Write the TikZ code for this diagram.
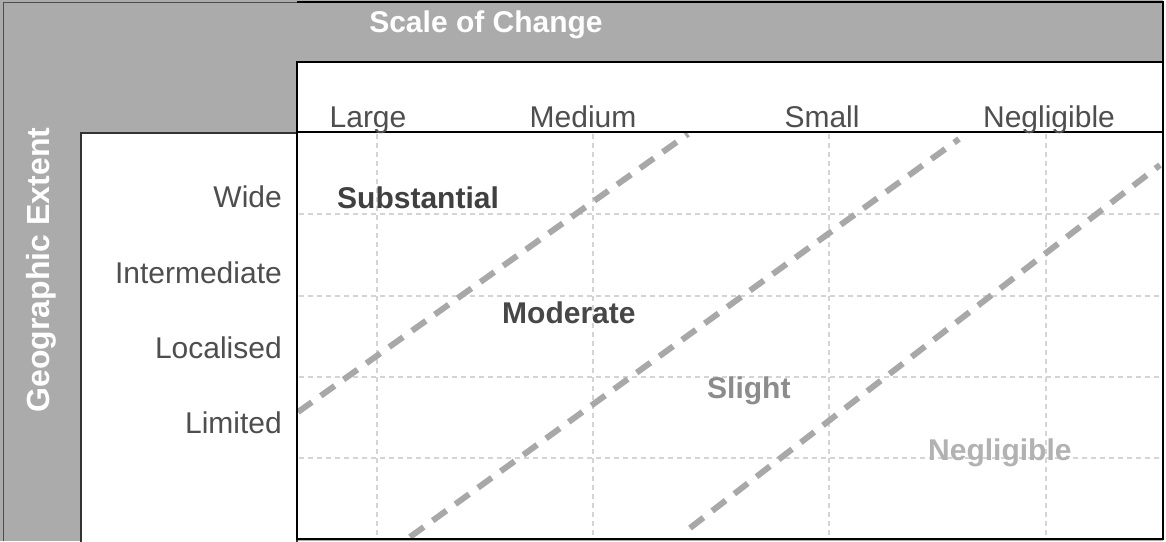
\documentclass[tikz,border=0pt]{standalone}
\usepackage{fontspec}
\setmainfont{Liberation Sans}
\definecolor{bandgray}{RGB}{171,171,171}
\definecolor{labelgray}{RGB}{78,78,78}
\definecolor{gridgray}{RGB}{212,212,212}
\definecolor{bandline}{RGB}{168,168,168}
\tikzset{lbl/.style={font=\fontsize{30}{32}\selectfont, text=labelgray, inner sep=0pt}}

\begin{document}
\begin{tikzpicture}[x=1pt,y=-1pt,
    cat/.style={lbl,font=\fontsize{30}{32}\selectfont\bfseries},
    gridline/.style={gridgray,line width=1.2pt,dash pattern=on 5pt off 4pt},
    bandedge/.style={bandline,line width=6pt,dash pattern=on 17pt off 11pt}]
    \useasboundingbox (0,0) rectangle (1166,541);
    % grey frame
    \fill[bandgray] (0,0) rectangle (1163,541);
    \draw[black!70,line width=1pt] (3,541) -- (3,2) -- (297,2);
    \draw[black,line width=2.5pt] (297,2) -- (1163,2) -- (1163,62);
    % white panels
    \filldraw[fill=white,draw=black,line width=2.5pt] (297,62) rectangle (1163,132);
    \filldraw[fill=white,draw=black!80,line width=1.2pt] (81,133) rectangle (297,545);
    \fill[white] (297,132) rectangle (1163,539);
    % grid
    \foreach \gx in {377,593,829,1046}
        \draw[gridline] (\gx,134) -- (\gx,538);
    \foreach \gy in {214,296,377,458}
        \draw[gridline] (299,\gy) -- (1161,\gy);
    % band edges
    \begin{scope}
        \clip (297,132) rectangle (1163,539);
        \coordinate (e1a) at (298,412);  \coordinate (e1b) at (688,134);
        \coordinate (e2a) at (410,537);  \coordinate (e2b) at (959,139);
        \coordinate (e3a) at (690,528);  \coordinate (e3b) at (1160,165);
        \foreach \e in {1,2,3}
            \draw[bandedge] (e\e a) -- (e\e b);
    \end{scope}
    \draw[black,line width=2.5pt] (297,132) rectangle (1163,539);
    % titles
    \node[lbl,text=white,font=\fontsize{30}{32}\selectfont\bfseries,anchor=base] (scale) at (486,32) {Scale of Change};
    \node[lbl,text=white,font=\fontsize{32}{34}\selectfont\bfseries,rotate=90,anchor=base] (extent) at (49,270) {Geographic Extent};
    % column labels
    \node[lbl,anchor=base] (large) at (368,127) {Large};
    \node[lbl,anchor=base] (medium) at (583,127) {Medium};
    \node[lbl,anchor=base] (small) at (822,127) {Small};
    \node[lbl,anchor=base] (neglcol) at (1049,127) {Negligible};
    % row labels
    \node[lbl,anchor=base east] (wide) at (282,207) {Wide};
    \node[lbl,anchor=base east] (inter) at (282,283) {Intermediate};
    \node[lbl,anchor=base east] (local) at (282,358) {Localised};
    \node[lbl,anchor=base east] (limited) at (282,433) {Limited};
    % magnitudes
    \node[cat,text=black!75,anchor=base west] (subst) at (337,208) {Substantial};
    \node[cat,text=black!72,anchor=base west] (moder) at (502,323) {Moderate};
    \node[cat,text=black!45,anchor=base west] (slight) at (707,398) {Slight};
    \node[cat,text=black!30,anchor=base west] (neglig) at (928,460) {Negligible};
\end{tikzpicture}
\end{document}
